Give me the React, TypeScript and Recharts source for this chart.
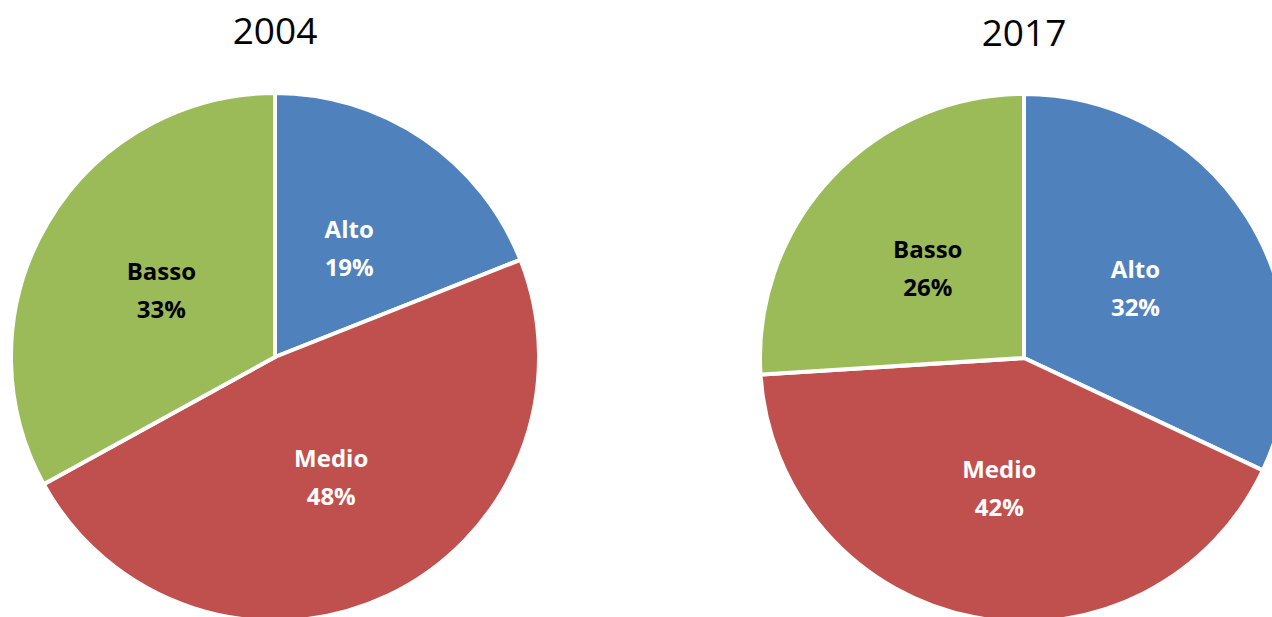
import React from "react";
import { PieChart, Pie, Cell } from "recharts";

const categories = ["Alto", "Medio", "Basso"];
const values2004 = [19, 48, 33];
const values2017 = [32, 42, 26];
const years = ["2004", "2017"];
const colors = ["#4F81BD", "#C0504D", "#9BBB59"];
const labelColors = ["#FFFFFF", "#FFFFFF", "#000000"];

const data2004 = categories.map((name, i) => ({ name, value: values2004[i] }));
const data2017 = categories.map((name, i) => ({ name, value: values2017[i] }));

const RAD = Math.PI / 180;
const FONT = "'Open Sans', 'Noto Sans', sans-serif";

const renderLabel = (props: any) => {
  const { cx, cy, midAngle, outerRadius, index, name, value } = props;
  const r = outerRadius * 0.5;
  const x = cx + r * Math.cos(-midAngle * RAD);
  const y = cy + r * Math.sin(-midAngle * RAD);
  return (
    <text
      x={x}
      y={y}
      fill={labelColors[index]}
      textAnchor="middle"
      fontFamily={FONT}
      fontWeight="bold"
      fontSize={24}
    >
      <tspan x={x} dy={-19} dominantBaseline="central">{name}</tspan>
      <tspan x={x} dy={38} dominantBaseline="central">{`${value}%`}</tspan>
    </text>
  );
};

export default function App() {
  const titleStyle: React.CSSProperties = {
    position: "absolute",
    width: 200,
    textAlign: "center",
    fontFamily: FONT,
    fontSize: 37,
    color: "#000",
    lineHeight: "44px",
  };
  return (
    <div style={{ position: "absolute", left: 0, top: 0, width: 1272, height: 617, background: "#fff", overflow: "hidden" }}>
      <div style={{ ...titleStyle, left: 175, top: 8 }}>{years[0]}</div>
      <div style={{ ...titleStyle, left: 924, top: 10 }}>{years[1]}</div>
      <div style={{ position: "absolute", left: 0, top: 0 }}>
        <PieChart width={1272} height={617} margin={{ top: 0, right: 0, bottom: 0, left: 0 }}>
          <Pie
            data={data2004}
            dataKey="value"
            nameKey="name"
            cx={275}
            cy={357}
            outerRadius={264}
            startAngle={90}
            endAngle={-270}
            stroke="#FFFFFF"
            strokeWidth={4}
            label={renderLabel}
            labelLine={false}
            isAnimationActive={false}
          >
            {data2004.map((d, i) => (
              <Cell key={d.name} fill={colors[i]} />
            ))}
          </Pie>
          <Pie
            data={data2017}
            dataKey="value"
            nameKey="name"
            cx={1024}
            cy={358}
            outerRadius={264}
            startAngle={90}
            endAngle={-270}
            stroke="#FFFFFF"
            strokeWidth={4}
            label={renderLabel}
            labelLine={false}
            isAnimationActive={false}
          >
            {data2017.map((d, i) => (
              <Cell key={d.name} fill={colors[i]} />
            ))}
          </Pie>
        </PieChart>
      </div>
    </div>
  );
}
